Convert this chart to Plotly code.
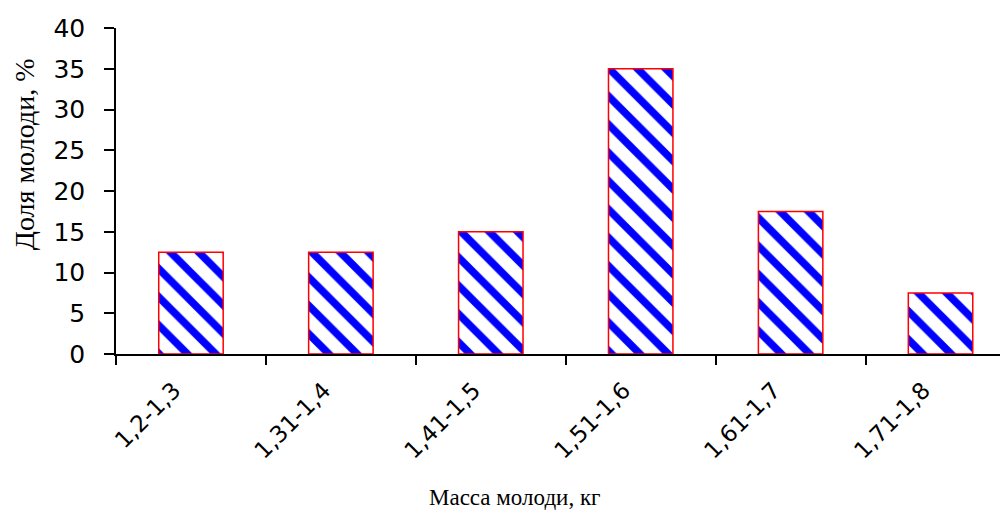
import plotly.graph_objects as go

categories = ["1,2-1,3", "1,31-1,4", "1,41-1,5", "1,51-1,6", "1,61-1,7", "1,71-1,8"]
values = [12.5, 12.5, 15, 35, 17.5, 7.5]
y_ticks = [0, 5, 10, 15, 20, 25, 30, 35, 40]

fig = go.Figure()
fig.add_trace(go.Bar(
    x=categories, y=values, width=0.43,
    marker=dict(
        color="white",
        line=dict(color="red", width=1.5),
        pattern=dict(shape="\\", fgcolor="#0000ff", bgcolor="white", size=20, solidity=0.38, fillmode="replace"),
    ),
))

fig.update_layout(
    width=1000, height=506,
    margin=dict(l=108, r=0, t=20, b=160),
    plot_bgcolor="white", paper_bgcolor="white",
    showlegend=False,
    font=dict(family="DejaVu Sans", size=23, color="black"),
    annotations=[
        dict(text="Масса молоди, кг", xref="paper", yref="paper", x=0.447, y=-0.4387,
             xanchor="center", yanchor="middle", showarrow=False,
             font=dict(family="Liberation Serif, Times New Roman", size=23)),
        dict(text="Доля молоди, %", xref="paper", yref="paper", x=-0.1031, y=0.613,
             xanchor="center", yanchor="middle", showarrow=False, textangle=-90,
             font=dict(family="Liberation Serif, Times New Roman", size=28)),
    ],
)
fig.update_xaxes(
    type="category", range=[-0.5, 5.45],
    showline=True, linecolor="black", linewidth=1.5,
    ticks="outside", tickson="boundaries", ticklen=9, tickcolor="black", tickwidth=1.5,
    tickangle=-45, showgrid=False,
    ticklabelshift=-17, ticklabelstandoff=12,
)
fig.update_yaxes(
    range=[0, 40], tickvals=y_ticks,
    showline=True, linecolor="black", linewidth=1.5,
    ticks="outside", ticklen=10, tickcolor="black", tickwidth=1.5,
    tickfont=dict(size=25),
    ticklabelstandoff=14, showgrid=False, zeroline=False,
)

fig.write_html("out.html")
